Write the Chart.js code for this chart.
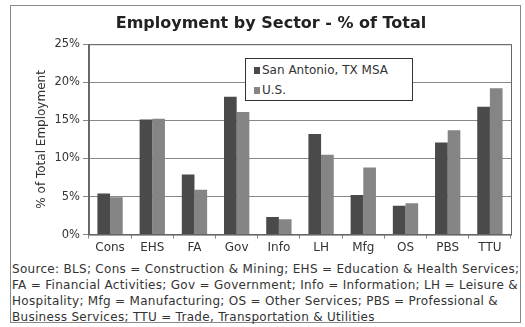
<!DOCTYPE html>
<html>
<head>
<meta charset="utf-8">
<script src="https://cdn.jsdelivr.net/npm/chart.js@4/dist/chart.umd.min.js"></script>
<style>
  body { margin: 0; background: #fff; font-family: "DejaVu Sans", sans-serif; }
  #box { position: absolute; left: 10px; top: 5px; width: 509px; height: 316px; border: 1px solid #888; }
  #wrap { position: absolute; left: 0; top: 0; width: 509px; height: 251px; }
  #legend { position: absolute; left: 234px; top: 52px; width: 166px; height: 41px; border: 1.5px solid #333; background: #fff; font-size: 12px; color: #333; }
  #legend div { position: absolute; left: 8px; white-space: nowrap; }
  #legend span { display: inline-block; width: 6px; height: 7px; margin-right: 2px; }
  #note { position: absolute; left: 1px; top: 255px; width: 509px; font-size: 12px; letter-spacing: 0.3px; line-height: 16px; color: #333; }
</style>
</head>
<body>
<div id="box">
  <div id="wrap"><canvas id="chart"></canvas></div>
  <div id="legend"></div>
  <div id="note">Source: BLS; Cons = Construction &amp; Mining; EHS = Education &amp; Health Services; FA = Financial Activities; Gov = Government; Info = Information; LH = Leisure &amp; Hospitality; Mfg = Manufacturing; OS = Other Services; PBS = Professional &amp; Business Services; TTU = Trade, Transportation &amp; Utilities</div>
</div>
<script>
// 数据
const sectors = ['Cons', 'EHS', 'FA', 'Gov', 'Info', 'LH', 'Mfg', 'OS', 'PBS', 'TTU'];
const sanAntonio = [5.4, 15.1, 7.9, 18.1, 2.3, 13.2, 5.2, 3.8, 12.1, 16.8];
const us = [4.9, 15.2, 5.9, 16.1, 2.0, 10.5, 8.8, 4.1, 13.7, 19.2];
const yTicks = [0, 5, 10, 15, 20, 25];

// plot area frame
const frame = {
    id: 'frame',
    afterDraw(chart) {
        const { ctx, chartArea: a } = chart;
        ctx.save();
        ctx.strokeStyle = '#666';
        ctx.lineWidth = 1;
        ctx.strokeRect(a.left + 0.5, a.top + 0.5, a.right - a.left, a.bottom - a.top);
        ctx.restore();
    }
};

const font = 'DejaVu Sans';

const chart = new Chart(document.getElementById('chart'), {
    type: 'bar',
    data: {
        labels: sectors,
        datasets: [
            { label: 'San Antonio, TX MSA', data: sanAntonio, backgroundColor: '#4a4a4a' },
            { label: 'U.S.', data: us, backgroundColor: '#858585' }
        ]
    },
    options: {
        responsive: true,
        maintainAspectRatio: false,
        animation: false,
        layout: { padding: { left: 20, right: 9, top: 0, bottom: 0 } },
        datasets: { bar: { categoryPercentage: 0.6, barPercentage: 1 } },
        plugins: {
            legend: { display: false },
            tooltip: { enabled: false },
            title: {
                display: true,
                text: 'Employment by Sector - % of Total',
                color: '#222',
                font: { family: font, size: 16, weight: 'bold' },
                padding: { top: 8, bottom: 11 }
            }
        },
        scales: {
            x: {
                grid: { display: true, drawOnChartArea: false, offset: true, tickLength: 4, color: '#888' },
                border: { color: '#666' },
                ticks: { color: '#333', font: { family: font, size: 12 }, padding: 2 }
            },
            y: {
                min: 0,
                max: 25,
                afterBuildTicks(axis) { axis.ticks = yTicks.map(v => ({ value: v })); },
                grid: { color: '#888', tickLength: 6 },
                border: { color: '#666' },
                ticks: { color: '#333', font: { family: font, size: 11.5 }, padding: 3, callback: v => v + '%' },
                title: { display: true, text: '% of Total Employment', color: '#333', font: { family: font, size: 12 }, padding: { bottom: 2 } }
            }
        }
    },
    plugins: [frame]
});

// legend from datasets
const legend = document.getElementById('legend');
chart.data.datasets.forEach((ds, i) => {
    const row = document.createElement('div');
    row.style.top = (4 + i * 20) + 'px';
    row.innerHTML = '<span style="background:' + ds.backgroundColor + '"></span>' + ds.label;
    legend.appendChild(row);
});
</script>
</body>
</html>
